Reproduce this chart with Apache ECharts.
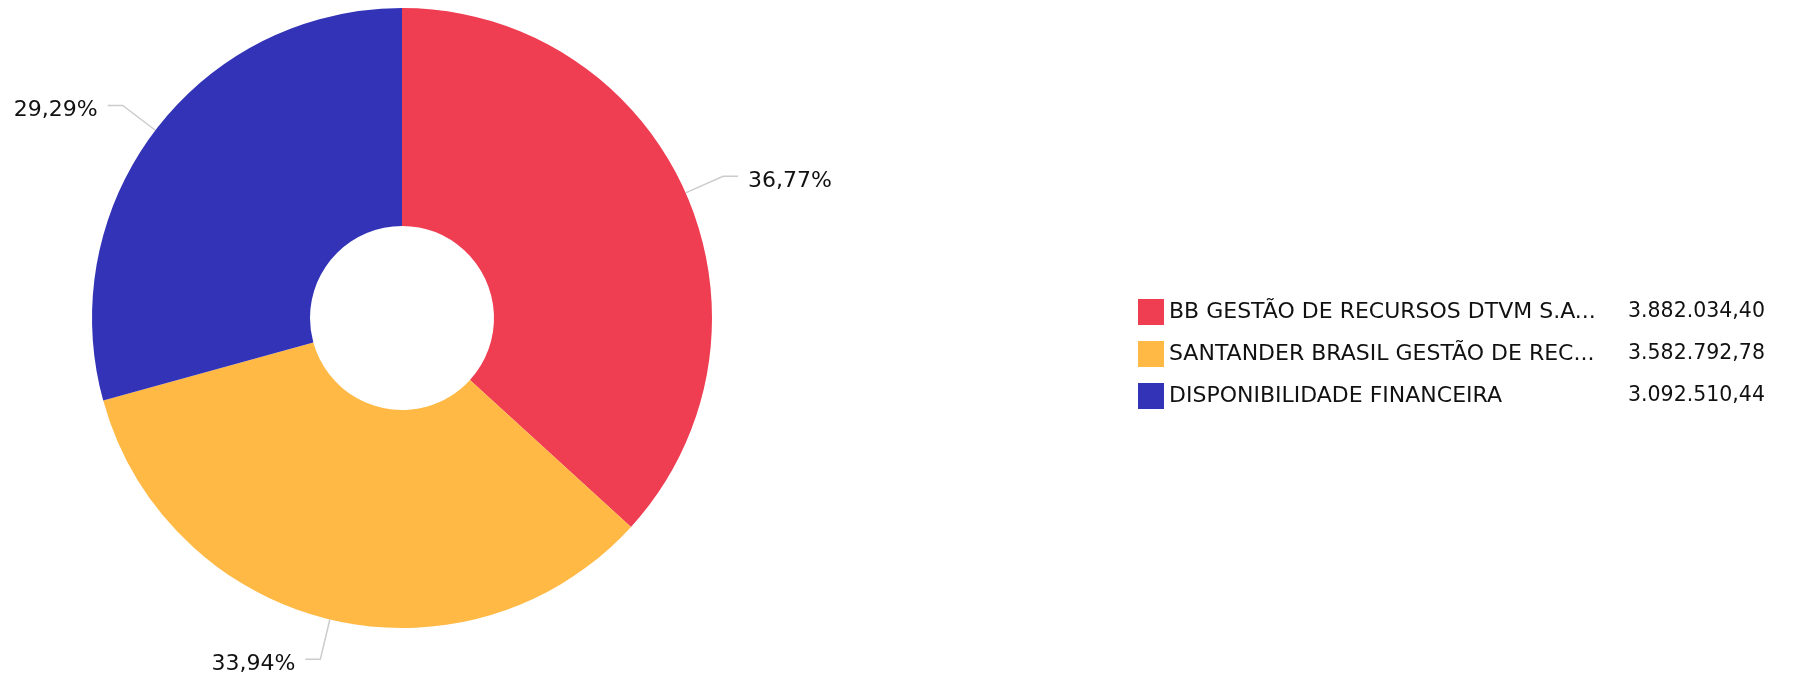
<!DOCTYPE html>
<html>
<head>
<meta charset="utf-8">
<script src="https://cdn.jsdelivr.net/npm/echarts@6/dist/echarts.min.js"></script>
<style>
html,body{margin:0;padding:0;background:#fff;}
#chart{width:1809px;height:678px;}
</style>
</head>
<body>
<div id="chart"></div>
<script>
var categories = ['BB GESTÃO DE RECURSOS DTVM S.A.', 'SANTANDER BRASIL GESTÃO DE RECURSOS LTDA', 'DISPONIBILIDADE FINANCEIRA'];
var values = [3882034.40, 3582792.78, 3092510.44];
var colors = ['#ef3d52', '#ffb944', '#3333b7'];

function fmtBR(v) {
  var parts = v.toFixed(2).split('.');
  var ip = parts[0].replace(/\B(?=(\d{3})+(?!\d))/g, '.');
  return ip + ',' + parts[1];
}
function trunc(s) {
  return s.length > 30 ? s.slice(0, 30) + '...' : s;
}
var total = values.reduce(function (a, b) { return a + b; }, 0);
var data = categories.map(function (c, i) {
  return { name: c, value: values[i], itemStyle: { color: colors[i] } };
});

var chart = echarts.init(document.getElementById('chart'), null, { renderer: 'canvas' });
chart.setOption({
  animation: false,
  textStyle: { fontFamily: 'DejaVu Sans' },
  legend: {
    orient: 'vertical',
    left: 1133,
    top: 294,
    itemWidth: 26,
    itemHeight: 26,
    itemGap: 16,
    icon: 'rect',
    selectedMode: false,
    formatter: function (name) {
      var i = categories.indexOf(name);
      return '{n|' + trunc(name) + '}{v|' + fmtBR(values[i]) + '}';
    },
    textStyle: {
      fontSize: 22,
      color: '#111',
      lineHeight: 26,
      rich: {
        n: { fontSize: 22, color: '#111', width: 459, lineHeight: 26, fontFamily: 'DejaVu Sans' },
        v: { fontSize: 20.5, color: '#111', lineHeight: 26, fontFamily: 'DejaVu Sans' }
      }
    }
  },
  series: [{
    type: 'pie',
    center: [402, 318],
    radius: [92, 310],
    startAngle: 90,
    clockwise: true,
    data: data,
    label: {
      show: true,
      fontSize: 22,
      color: '#111',
      fontFamily: 'DejaVu Sans',
      overflow: 'none',
      padding: [0, 5, 0, 5],
      formatter: function (p) {
        return '{p|' + (p.value / total * 100).toFixed(2).replace('.', ',') + '%}';
      },
      rich: {
        p: { fontSize: 22, color: '#111', fontFamily: 'DejaVu Sans', padding: [10, 0, 0, 0] }
      }
    },
    labelLine: {
      show: true,
      length: 41,
      length2: 15,
      lineStyle: { color: '#cccccc', width: 1.5 }
    },
    emphasis: { disabled: true }
  }]
});
</script>
</body>
</html>
